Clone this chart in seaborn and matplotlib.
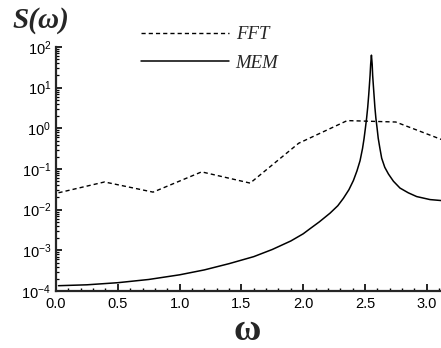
import numpy as np
import pandas as pd
import seaborn as sns
import matplotlib
matplotlib.use("Agg")
import matplotlib.pyplot as plt
from matplotlib.ticker import LogLocator, MultipleLocator, FormatStrFormatter, NullFormatter

# FFT periodogram, sampled at multiples of pi/8
fft_omega = [0.02, 0.3927, 0.7854, 1.1781, 1.5708, 1.9635, 2.3562, 2.7489, 3.1416]
fft_power = [0.026, 0.048, 0.027, 0.085, 0.045, 0.43, 1.55, 1.43, 0.50]

# Maximum-entropy spectral estimate
mem_omega = [0.02, 0.25, 0.5, 0.75, 1.0, 1.2, 1.4, 1.6, 1.75, 1.9, 2.0, 2.055,
             2.13, 2.217, 2.28, 2.325, 2.37, 2.406, 2.435, 2.46, 2.48, 2.492,
             2.503, 2.513, 2.522, 2.53, 2.536, 2.541, 2.546, 2.552, 2.558,
             2.562, 2.567, 2.573, 2.58, 2.588, 2.598, 2.607, 2.62, 2.635, 2.66,
             2.69, 2.73, 2.783, 2.85, 2.918, 3.026, 3.1416]
mem_power = [1.35e-4, 1.42e-4, 1.6e-4, 1.92e-4, 2.5e-4, 3.3e-4, 4.7e-4, 7.0e-4,
             1.05e-3, 1.7e-3, 2.55e-3, 3.4e-3, 5.0e-3, 8.2e-3, 0.0125, 0.019,
             0.031, 0.052, 0.09, 0.16, 0.32, 0.55, 1.0, 1.78, 3.3, 6.6, 12.0,
             20.0, 38.0, 63.0, 38.0, 20.0, 12.0, 6.6, 3.3, 1.78, 1.0, 0.57, 0.33,
             0.184, 0.11, 0.075, 0.05, 0.034, 0.026, 0.021, 0.0177, 0.0165]

series_names = ["FFT", "MEM"]

sns.set_style("ticks")
plt.rcParams.update({
    "font.family": ["Liberation Sans", "DejaVu Sans"],
    "mathtext.default": "regular",
    "axes.unicode_minus": False,
    "axes.linewidth": 1.6,
    "xtick.direction": "in",
    "ytick.direction": "in",
    "xtick.major.size": 5,
    "xtick.minor.size": 2.5,
    "ytick.major.size": 4,
    "ytick.minor.size": 2.5,
    "xtick.major.width": 1.2,
    "xtick.minor.width": 1.0,
    "ytick.major.width": 1.2,
    "ytick.minor.width": 0.9,
    "xtick.color": "black",
    "ytick.color": "black",
})

W, H = 441, 348
fig = plt.figure(figsize=(W / 100, H / 100), dpi=100)
px_per_unit = 123.6
left, right_px = 56, 56 + np.pi * px_per_unit
top, bottom = 47, 291
ax = fig.add_axes([left / W, 1 - bottom / H, (right_px - left) / W, (bottom - top) / H])

fft_df = pd.DataFrame({"omega": fft_omega, "S": fft_power})
mem_df = pd.DataFrame({"omega": mem_omega, "S": mem_power})

sns.lineplot(data=fft_df, x="omega", y="S", ax=ax, color="black", lw=1.0,
             label=series_names[0], sort=False)
ax.lines[-1].set_dashes((3.0, 2.2))
sns.lineplot(data=mem_df, x="omega", y="S", ax=ax, color="black", lw=1.1,
             label=series_names[1], sort=False)

ax.set_yscale("log")
ax.set_xlim(0, np.pi)
ax.set_ylim(1e-4, 1e2)
ax.set_xlabel("")
ax.set_ylabel("")

ax.xaxis.set_major_locator(MultipleLocator(0.5))
ax.xaxis.set_minor_locator(MultipleLocator(0.1))
ax.xaxis.set_major_formatter(FormatStrFormatter("%.1f"))
ax.yaxis.set_major_locator(LogLocator(base=10, numticks=10))
ax.yaxis.set_minor_locator(LogLocator(base=10, subs=np.arange(2, 10), numticks=20))
ax.yaxis.set_minor_formatter(NullFormatter())
ax.tick_params(axis="x", which="major", labelsize=10.5, pad=4.5)
ax.tick_params(axis="y", which="major", labelsize=10.5, pad=3.5)

sns.despine(ax=ax, top=True, right=True)

leg = ax.legend(loc="upper left", bbox_to_anchor=(141 / W, 1 - 26 / H),
                bbox_transform=fig.transFigure, frameon=False,
                handlelength=4.7, handletextpad=0.35, labelspacing=0.62,
                borderpad=0, borderaxespad=0,
                prop={"family": "Liberation Serif", "style": "italic", "size": 13.5})

fig.text(12 / W, 1 - 28 / H, "S(ω)", family="Liberation Serif", style="italic",
         weight="bold", fontsize=21, va="baseline", ha="left")
fig.text(247 / W, 1 - 340 / H, "ω", family="Liberation Serif", weight="bold",
         fontsize=27, va="baseline", ha="center")

fig.savefig("out.png", dpi=100)
